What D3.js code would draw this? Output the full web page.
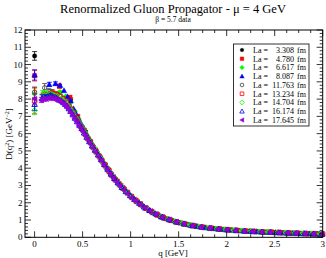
<!DOCTYPE html>
<html><head><meta charset="utf-8">
<script src="https://cdn.jsdelivr.net/npm/d3@7"></script>
<style>
body{margin:0;background:#fff;}
svg{display:block;font-family:"Liberation Serif","Times New Roman",serif;}
</style></head>
<body><svg id="c" width="326" height="258"></svg>
<script>
// ---- data ----
const title = "Renormalized Gluon Propagator - \u03bc = 4 GeV";
const subtitle = "\u03b2 = 5.7 data";
const xLabel = "q  [GeV]";
const lattices = ["3.308","4.780","6.617","8.087","11.763","13.234","14.704","16.174","17.645"];
const colors = ["#000000","#ff0000","#00ff00","#0000ff","#404040","#ff0000","#00ff00","#0000ff","#9400d3"];
const shapes = ["circle","square","diamond","triUp","circle","square","diamond","triUp","triLeft"];
const filled = [true,true,true,true,false,false,false,false,true];
const xTicks = [0,0.5,1,1.5,2,2.5,3];
const xTickLabels = ["0","0.5","1","1.5","2","2.5","3"];
const yTicks = [0,1,2,3,4,5,6,7,8,9,10,11,12];

const q1 = [0,0.375,0.530,0.650,0.750,0.839,0.919,0.992,1.061,1.125,1.186,1.244,1.299,1.352,1.403,1.452,1.500,1.591,1.677,1.759,1.837,1.912,1.984,2.054,2.121,2.186,2.250,2.312,2.372,2.431,2.488,2.544,2.598,2.652,2.704,2.755,2.805,2.854,2.902,2.950,2.996];
const d1 = [10.5,7.95,6.1,4.9,4.05,3.38,2.87,2.44,2.10,1.83,1.59,1.40,1.24,1.12,1.01,0.93,0.85,0.74,0.65,0.58,0.53,0.48,0.45,0.42,0.39,0.36,0.35,0.33,0.31,0.30,0.28,0.27,0.26,0.25,0.24,0.23,0.22,0.21,0.20,0.20,0.19];
const e1 = [0.25,0.12,0.08];

const q2 = [0,0.259,0.367,0.449,0.519,0.580,0.635,0.686,0.734,0.778,0.820,0.861,0.899,0.936,0.971,1.005,1.038,1.070,1.101,1.161,1.218,1.272,1.324,1.374,1.423,1.469,1.515,1.601,1.683,1.761,1.836,1.909,1.978,2.046,2.111,2.175,2.237,2.297,2.356,2.413,2.469,2.524,2.578,2.631,2.683,2.733,2.783,2.832,2.880,2.927,2.973];
const d2 = [9.35,8.75,8.1,7.0,6.2,5.55,5.05,4.6,4.2,3.85,3.5,3.25,2.99,2.77,2.57,2.38,2.2,2.06,1.93,1.68,1.49,1.31,1.18,1.07,0.98,0.9,0.84,0.73,0.64,0.58,0.53,0.49,0.45,0.42,0.39,0.37,0.35,0.33,0.32,0.30,0.29,0.28,0.26,0.25,0.24,0.23,0.22,0.21,0.21,0.20,0.19];
const e2 = [0.3,0.12,0.1];

const q3 = [0,0.187,0.265,0.324,0.374,0.418,0.458,0.495,0.529,0.561,0.591,0.620,0.648,0.674,0.700,0.748,0.793,0.836,0.876,0.915,0.953,0.989,1.058,1.122,1.183,1.241,1.296,1.349,1.400,1.450,1.520,1.610,1.700,1.790,1.880,1.970,2.060,2.150,2.240,2.330,2.420,2.510,2.600,2.690,2.780,2.870,2.960];
const d3v = [8.3,8.3,8.4,8.15,7.8,7.3,6.85,6.45,6.1,5.75,5.45,5.2,4.95,4.7,4.45,4.05,3.7,3.4,3.12,2.88,2.66,2.46,2.1,1.84,1.61,1.41,1.25,1.13,1.02,0.93,0.83,0.72,0.63,0.56,0.5,0.45,0.41,0.38,0.35,0.32,0.3,0.28,0.26,0.24,0.22,0.21,0.19];
const e3 = [0.35,0.15,0.1];

const q4 = [0,0.153,0.217,0.265,0.306,0.342,0.375,0.405,0.433,0.459,0.484,0.508,0.530,0.552,0.573,0.593,0.612,0.649,0.684,0.717,0.749,0.780,0.809,0.838,0.866,0.893,0.919,0.970,1.018,1.065,1.110,1.153,1.195,1.236,1.276,1.315,1.353,1.426,1.496,1.562,1.626,1.688,1.777,1.862,1.944,2.023,2.099,2.172,2.243,2.312,2.379,2.445,2.508,2.570,2.631,2.690,2.748,2.805,2.861,2.916,2.970];
const d4 = [9.4,8.85,8.9,8.8,8.5,8.15,7.9,7.45,7.15,6.85,6.6,6.35,6.1,5.85,5.65,5.45,5.25,4.95,4.65,4.35,4.08,3.8,3.6,3.38,3.2,3.03,2.87,2.57,2.3,2.08,1.88,1.7,1.57,1.42,1.3,1.2,1.11,0.98,0.86,0.77,0.69,0.63,0.56,0.51,0.47,0.43,0.4,0.37,0.35,0.33,0.31,0.29,0.28,0.27,0.25,0.24,0.23,0.22,0.21,0.20,0.19];
const e4 = [0.3,0.12,0.1];

const q5 = [0,0.105,0.149,0.182,0.210,0.235,0.258,0.297,0.315,0.333,0.365,0.394,0.421,0.446,0.470,0.493,0.515,0.546,0.576,0.604,0.631,0.657,0.694,0.730,0.764,0.797,0.829,0.874,0.918,0.960,1.001,1.060,1.117,1.172,1.225,1.290,1.352,1.430,1.505,1.590,1.680,1.770,1.860,1.950,2.040,2.130,2.220,2.310,2.400,2.490,2.580,2.670,2.760,2.850,2.940];
const d5 = [8.4,8.65,8.45,8.4,8.3,8.3,8.2,8.05,7.95,7.8,7.55,7.3,7.0,6.8,6.55,6.35,6.15,5.85,5.55,5.3,5.05,4.85,4.55,4.25,3.98,3.7,3.45,3.15,2.88,2.62,2.4,2.1,1.85,1.64,1.45,1.26,1.11,0.97,0.85,0.74,0.64,0.57,0.51,0.46,0.42,0.38,0.35,0.33,0.30,0.28,0.26,0.24,0.23,0.21,0.20];
const e5 = [0.3,0.25,0.15,0.15];

const q6 = [0,0.094,0.133,0.163,0.188,0.210,0.230,0.266,0.299,0.328,0.355,0.380,0.404,0.427,0.449,0.470,0.500,0.528,0.556,0.582,0.610,0.640,0.672,0.703,0.735,0.768,0.800,0.840,0.880,0.920,0.965,1.010,1.055,1.100,1.160,1.220,1.280,1.340,1.410,1.480,1.560,1.650,1.740,1.830,1.920,2.010,2.100,2.190,2.280,2.370,2.460,2.550,2.640,2.730,2.820,2.910,3.000];
const d6 = [7.9,8.2,8.25,8.3,8.35,8.3,8.25,8.15,8.0,7.8,7.6,7.4,7.15,6.95,6.75,6.5,6.25,5.95,5.7,5.5,5.2,4.95,4.7,4.42,4.15,3.88,3.62,3.33,3.08,2.85,2.6,2.35,2.13,1.93,1.69,1.48,1.3,1.14,1.0,0.88,0.77,0.67,0.59,0.53,0.48,0.44,0.40,0.37,0.34,0.31,0.29,0.27,0.25,0.23,0.22,0.20,0.19];
const e6 = [0.75,0.2,0.15];

const q7 = [0,0.084,0.119,0.146,0.168,0.188,0.206,0.238,0.252,0.278,0.302,0.325,0.346,0.366,0.386,0.404,0.430,0.455,0.480,0.505,0.530,0.560,0.590,0.620,0.652,0.685,0.718,0.752,0.786,0.820,0.860,0.900,0.942,0.985,1.030,1.080,1.130,1.190,1.250,1.320,1.390,1.465,1.540,1.630,1.720,1.810,1.900,1.990,2.080,2.170,2.260,2.350,2.440,2.530,2.620,2.710,2.800,2.890,2.980];
const d7 = [7.35,8.3,8.3,8.25,8.3,8.25,8.2,8.15,8.1,8.0,7.9,7.75,7.6,7.45,7.3,7.15,6.9,6.7,6.5,6.25,6.0,5.7,5.42,5.17,4.87,4.58,4.3,4.02,3.75,3.5,3.2,2.96,2.7,2.48,2.25,2.02,1.8,1.58,1.39,1.19,1.04,0.91,0.8,0.69,0.61,0.54,0.49,0.45,0.41,0.38,0.35,0.32,0.30,0.28,0.26,0.24,0.22,0.21,0.19];
const e7 = [0.25,0.2,0.15];

const q8 = [0,0.077,0.109,0.133,0.154,0.172,0.189,0.218,0.231,0.256,0.278,0.300,0.320,0.338,0.356,0.374,0.398,0.420,0.443,0.466,0.490,0.515,0.542,0.570,0.598,0.628,0.660,0.693,0.726,0.760,0.795,0.830,0.868,0.908,0.950,0.995,1.040,1.090,1.140,1.200,1.260,1.330,1.400,1.475,1.555,1.645,1.735,1.825,1.915,2.005,2.095,2.185,2.275,2.365,2.455,2.545,2.635,2.725,2.815,2.905,2.995];
const d8 = [7.7,8.05,8.1,8.15,8.2,8.2,8.15,8.1,8.05,7.95,7.9,7.8,7.7,7.6,7.45,7.3,7.1,6.9,6.7,6.5,6.3,6.05,5.8,5.55,5.3,5.05,4.78,4.5,4.22,3.95,3.67,3.42,3.16,2.9,2.66,2.42,2.2,1.98,1.77,1.56,1.37,1.18,1.03,0.9,0.79,0.68,0.6,0.54,0.49,0.44,0.40,0.37,0.34,0.32,0.30,0.28,0.26,0.24,0.22,0.21,0.19];
const e8 = [0.35,0.2,0.15];

const q9 = [0,0.070,0.099,0.121,0.140,0.157,0.171,0.198,0.210,0.232,0.252,0.271,0.290,0.307,0.323,0.339,0.354,0.375,0.395,0.415,0.436,0.458,0.480,0.503,0.527,0.552,0.578,0.605,0.633,0.662,0.692,0.722,0.753,0.785,0.818,0.852,0.888,0.925,0.965,1.005,1.050,1.100,1.150,1.205,1.265,1.330,1.400,1.475,1.555,1.640,1.730,1.820,1.910,2.000,2.090,2.180,2.270,2.360,2.450,2.540,2.630,2.720,2.810,2.900,2.990];
const d9 = [8.0,7.95,8.0,8.0,8.05,8.05,8.05,8.0,8.0,7.95,7.9,7.85,7.75,7.7,7.6,7.5,7.4,7.2,7.05,6.88,6.7,6.5,6.3,6.1,5.9,5.65,5.42,5.18,4.93,4.68,4.43,4.18,3.92,3.68,3.44,3.2,2.97,2.74,2.52,2.3,2.1,1.88,1.7,1.52,1.35,1.18,1.03,0.9,0.79,0.69,0.6,0.54,0.49,0.44,0.40,0.37,0.34,0.32,0.30,0.28,0.26,0.24,0.22,0.21,0.19];
const e9 = [0.3,0.15,0.12];

const qs = [q1,q2,q3,q4,q5,q6,q7,q8,q9];
const ds = [d1,d2,d3v,d4,d5,d6,d7,d8,d9];
const es = [e1,e2,e3,e4,e5,e6,e7,e8,e9];

// ---- drawing ----
const svg = d3.select("#c");
const W = 326, H = 258;
const x = d3.scaleLinear().domain([-0.1,3]).range([25,322.7]);
const y = d3.scaleLinear().domain([0,12]).range([237.3,30]);

function symPath(shape, r){
  const p = d3.path();
  if(shape==="circle"){ p.arc(0,0,r,0,2*Math.PI); }
  else if(shape==="square"){ p.rect(-r,-r,2*r,2*r); }
  else if(shape==="diamond"){ const s=r*1.3; p.moveTo(0,-s);p.lineTo(s,0);p.lineTo(0,s);p.lineTo(-s,0);p.closePath(); }
  else if(shape==="triUp"){ const s=r*1.25; p.moveTo(0,-s);p.lineTo(s,s*0.8);p.lineTo(-s,s*0.8);p.closePath(); }
  else if(shape==="triLeft"){ const s=r*1.25; p.moveTo(-s,0);p.lineTo(s*0.8,-s);p.lineTo(s*0.8,s);p.closePath(); }
  return p.toString();
}

const plot = svg.append("g");
qs.forEach((qa,i)=>{
  const g = plot.append("g");
  const pts = qa.map((q,j)=>({q:q, d:ds[i][j], e:es[i][j]||0}));
  const eb = pts.filter(p=>p.e>0);
  g.selectAll("line.eb").data(eb).enter().append("line")
    .attr("x1",p=>x(p.q)).attr("x2",p=>x(p.q))
    .attr("y1",p=>y(p.d-p.e)).attr("y2",p=>y(p.d+p.e))
    .attr("stroke",colors[i]).attr("stroke-width",0.8);
  [-1,1].forEach(sg=>{
    g.selectAll(null).data(eb).enter().append("line")
      .attr("x1",p=>x(p.q)-2.5).attr("x2",p=>x(p.q)+2.5)
      .attr("y1",p=>y(p.d+sg*p.e)).attr("y2",p=>y(p.d+sg*p.e))
      .attr("stroke",colors[i]).attr("stroke-width",0.8);
  });
  g.selectAll("path").data(pts).enter().append("path")
    .attr("transform",p=>`translate(${x(p.q)},${y(p.d)})`)
    .attr("d",symPath(shapes[i],2.2))
    .attr("fill",filled[i]?colors[i]:"none")
    .attr("stroke",colors[i]).attr("stroke-width",filled[i]?0.4:0.9);
});

// frame
svg.append("rect").attr("x",x.range()[0]).attr("y",y.range()[1])
  .attr("width",x.range()[1]-x.range()[0]).attr("height",y.range()[0]-y.range()[1])
  .attr("fill","none").attr("stroke","#000").attr("stroke-width",1);

// ticks
const ax = svg.append("g").attr("stroke","#000").attr("stroke-width",0.8);
const xMinor = d3.range(0,3.0001,0.125);
const yMinor = d3.range(0,12.0001,0.2);
const [x0,x1] = x.range(), [y0,y1] = y.range();
xMinor.forEach(v=>{
  const major = xTicks.some(t=>Math.abs(t-v)<1e-6);
  const L = major?6:3;
  ax.append("line").attr("x1",x(v)).attr("x2",x(v)).attr("y1",y0).attr("y2",y0-L);
  ax.append("line").attr("x1",x(v)).attr("x2",x(v)).attr("y1",y1).attr("y2",y1+L);
});
yMinor.forEach(v=>{
  const major = Math.abs(v-Math.round(v))<1e-6;
  const L = major?6:3;
  ax.append("line").attr("x1",x0).attr("x2",x0+L).attr("y1",y(v)).attr("y2",y(v));
  ax.append("line").attr("x1",x1).attr("x2",x1-L).attr("y1",y(v)).attr("y2",y(v));
});

// tick labels
svg.append("g").selectAll("text").data(xTicks).enter().append("text")
  .attr("x",d=>x(d)).attr("y",246.5).attr("text-anchor","middle")
  .attr("font-size",9).text((d,i)=>xTickLabels[i]);
svg.append("g").selectAll("text").data(yTicks).enter().append("text")
  .attr("x",22.5).attr("y",d=>y(d)+3).attr("text-anchor","end")
  .attr("font-size",9).text(d=>d);

// titles
svg.append("text").attr("x",173).attr("y",12.5).attr("text-anchor","middle")
  .attr("font-size",12.5).text(title);
svg.append("text").attr("x",173).attr("y",21.5).attr("text-anchor","middle")
  .attr("font-size",7.5).text(subtitle);
svg.append("text").attr("x",173).attr("y",256).attr("text-anchor","middle")
  .attr("font-size",9).text(xLabel);
const yl = svg.append("text").attr("transform","translate(12,134) rotate(-90)")
  .attr("text-anchor","middle").attr("font-size",9);
yl.append("tspan").text("D(q");
yl.append("tspan").attr("dy",-3).attr("font-size",6).text("2");
yl.append("tspan").attr("dy",3).text(")  [GeV");
yl.append("tspan").attr("dy",-3).attr("font-size",6).text("\u22122");
yl.append("tspan").attr("dy",3).text("]");

// legend
const lg = svg.append("g");
lg.append("rect").attr("x",233.5).attr("y",44).attr("width",75.5).attr("height",82)
  .attr("fill","#fff").attr("stroke","#000").attr("stroke-width",0.8);
lattices.forEach((La,i)=>{
  const yy = 50 + i*8.75;
  lg.append("path").attr("transform",`translate(242,${yy})`)
    .attr("d",symPath(shapes[i],1.8))
    .attr("fill",filled[i]?colors[i]:"none").attr("stroke",colors[i]).attr("stroke-width",filled[i]?0.4:0.8);
  lg.append("text").attr("x",253).attr("y",yy+2.8).attr("font-size",8).text("La =");
  lg.append("text").attr("x",294).attr("y",yy+2.8).attr("font-size",8).attr("text-anchor","end").text(La);
  lg.append("text").attr("x",297).attr("y",yy+2.8).attr("font-size",8).text("fm");
});
</script></body></html>
